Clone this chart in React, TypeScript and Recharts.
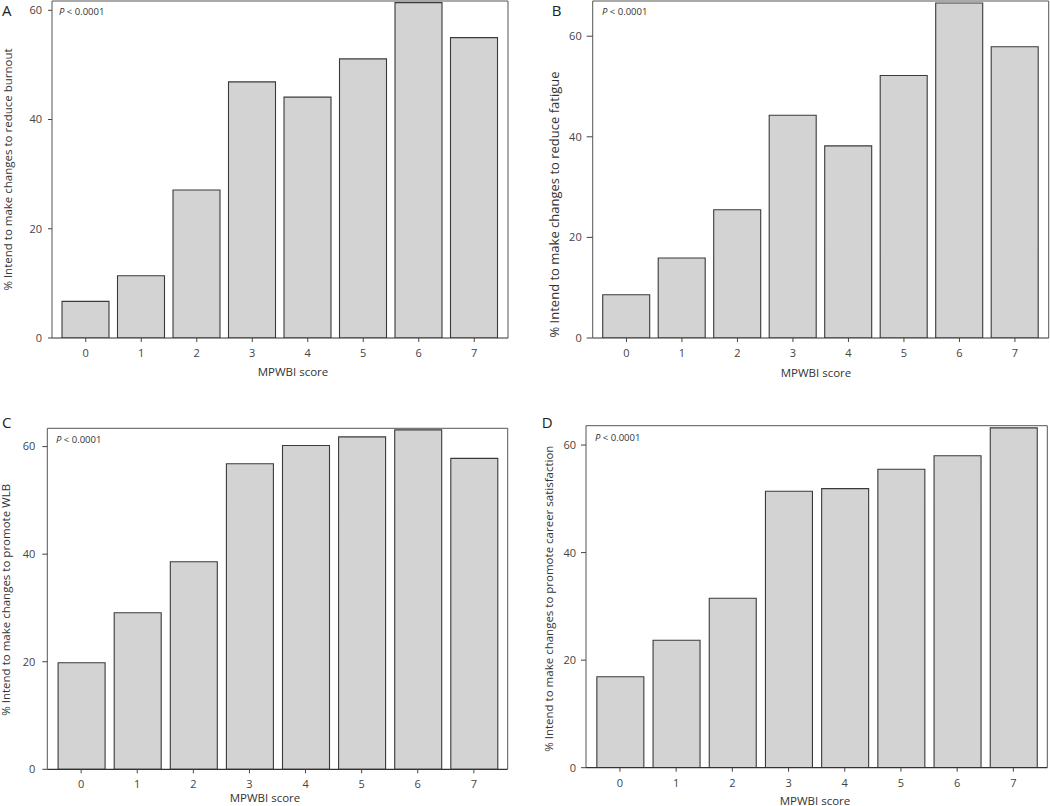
import React from 'react';
import { BarChart, Bar, XAxis, YAxis, CartesianGrid } from 'recharts';

// ---- data ----
const scores = ['0', '1', '2', '3', '4', '5', '6', '7'];
const burnoutPct = [6.7, 11.4, 27.1, 46.9, 44.1, 51.1, 61.4, 55.0];
const fatiguePct = [8.6, 15.9, 25.5, 44.3, 38.2, 52.2, 66.6, 57.9];
const wlbPct = [19.8, 29.1, 38.6, 56.8, 60.2, 61.8, 63.1, 57.8];
const careerPct = [16.9, 23.7, 31.5, 51.4, 51.9, 55.5, 58.0, 63.2];
const yTicks = [0, 20, 40, 60];
const xTitle = 'MPWBI score';
const pText = '< 0.0001';

const FONT = '"Open Sans", "Noto Sans", "DejaVu Sans", sans-serif';
const TXT = '#333';

type Cfg = {
  letter: string;
  title: string;
  values: number[];
  ymax: number;
  left: number;
  top: number;
  width: number;
  height: number;
  margin: { top: number; right: number; bottom: number; left: number };
  yw: number;
  xh: number;
  pad: number;
  yTickSize: number;
  yTickMargin: number;
  letterPos: [number, number];
  pPos: [number, number];
  yTitleD: number;
  yTitleDy: number;
  yTitleFs: number;
  xTitleDx: number;
  xTitleDy: number;
};

const panels: Cfg[] = [
  {
    letter: 'A', title: '% Intend to make changes to reduce burnout', values: burnoutPct, ymax: 61.7,
    left: 0, top: 0, width: 520, height: 400, margin: { top: 1, right: 12, bottom: 22, left: 12 },
    yw: 40, xh: 40, pad: 6, yTickSize: 4, yTickMargin: 6,
    letterPos: [2, 15.5], pPos: [59, 15], yTitleD: 45, yTitleDy: 0, yTitleFs: 11.5, xTitleDx: 13, xTitleDy: 33.7,
  },
  {
    letter: 'B', title: '% Intend to make changes to reduce fatigue', values: fatiguePct, ymax: 67.0,
    left: 520, top: 0, width: 530, height: 400, margin: { top: 1, right: 1.3, bottom: 22, left: 32.7 },
    yw: 40, xh: 40, pad: 6, yTickSize: 6, yTickMargin: 5,
    letterPos: [31.7, 15.5], pPos: [82, 15.3], yTitleD: 38.7, yTitleDy: 35, yTitleFs: 13, xTitleDx: -4.7, xTitleDy: 34.5,
  },
  {
    letter: 'C', title: '% Intend to make changes to promote WLB', values: wlbPct, ymax: 63.4,
    left: 0, top: 400, width: 520, height: 406, margin: { top: 28.3, right: 12.3, bottom: 0, left: 7.3 },
    yw: 40, xh: 36.7, pad: 5.8, yTickSize: 5, yTickMargin: 7,
    letterPos: [2, 28], pPos: [56, 42.7], yTitleD: 41.3, yTitleDy: 1, yTitleFs: 11.5, xTitleDx: -12.5, xTitleDy: 27.7,
  },
  {
    letter: 'D', title: '% Intend to make changes to promote career satisfaction', values: careerPct, ymax: 63.6,
    left: 520, top: 400, width: 530, height: 406, margin: { top: 25.7, right: 2.7, bottom: 0, left: 26 },
    yw: 40, xh: 38.3, pad: 5.85, yTickSize: 5, yTickMargin: 5,
    letterPos: [21.7, 27.5], pPos: [75, 41], yTitleD: 37, yTitleDy: 2, yTitleFs: 11.5, xTitleDx: -1.7, xTitleDy: 32.3,
  },
];

function Panel({ cfg }: { cfg: Cfg }) {
  const data = scores.map((s, i) => ({ score: s, value: cfg.values[i] }));
  const yTitle = (props: any) => {
    const vb = props.viewBox || {};
    const cx = vb.x + vb.width - cfg.yTitleD;
    const cy = vb.y + vb.height / 2 + cfg.yTitleDy;
    return (
      <text x={cx} y={cy} transform={`rotate(-90 ${cx} ${cy})`} textAnchor="middle" dominantBaseline="central"
        fontFamily={FONT} fontSize={cfg.yTitleFs} fill={TXT}>{cfg.title}</text>
    );
  };
  const xTitleC = (props: any) => {
    const vb = props.viewBox || {};
    const cx = vb.x + vb.width / 2 + cfg.xTitleDx;
    const cy = vb.y + cfg.xTitleDy;
    return (
      <text x={cx} y={cy} textAnchor="middle" dominantBaseline="central" fontFamily={FONT} fontSize={11.5} fill={TXT}>{xTitle}</text>
    );
  };
  return (
    <div style={{ position: 'absolute', left: cfg.left, top: cfg.top, width: cfg.width, height: cfg.height }}>
      <BarChart width={cfg.width} height={cfg.height} data={data} margin={cfg.margin}>
        <CartesianGrid
          stroke="#555"
          strokeWidth={1}
          horizontalCoordinatesGenerator={(p: any) => (p && p.offset ? [p.offset.top] : [])}
          verticalCoordinatesGenerator={(p: any) => (p && p.offset ? [p.offset.left + p.offset.width] : [])}
        />
        <XAxis
          dataKey="score"
          height={cfg.xh}
          padding={{ left: cfg.pad, right: cfg.pad }}
          tickSize={4}
          tickMargin={7}
          axisLine={{ stroke: '#333', strokeWidth: 1.2 }}
          tickLine={{ stroke: '#444' }}
          tick={{ fontSize: 11, fill: '#444', fontFamily: FONT }}
          interval={0}
          label={{ content: xTitleC }}
        />
        <YAxis
          type="number"
          domain={[0, cfg.ymax]}
          ticks={yTicks}
          width={cfg.yw}
          tickSize={cfg.yTickSize}
          tickMargin={cfg.yTickMargin}
          axisLine={{ stroke: '#555' }}
          tickLine={{ stroke: '#444' }}
          tick={{ fontSize: 11, fill: '#444', fontFamily: FONT }}
          interval={0}
          allowDataOverflow
          label={{ content: yTitle }}
        />
        <Bar dataKey="value" fill="#d3d3d3" stroke="#3a3a3a" strokeWidth={1.1} barSize={47} isAnimationActive={false} />
        <text x={cfg.letterPos[0]} y={cfg.letterPos[1]} fontFamily={FONT} fontSize={15} fill="#222">{cfg.letter}</text>
        <text x={cfg.pPos[0]} y={cfg.pPos[1]} fontFamily={FONT} fontSize={9.5} fill="#333">
          <tspan fontStyle="italic">P</tspan> {pText}
        </text>
      </BarChart>
    </div>
  );
}

export default function App() {
  return (
    <div style={{ position: 'absolute', left: 0, top: 0, width: 1050, height: 806, background: '#fff' }}>
      {panels.map((c) => (
        <Panel key={c.letter} cfg={c} />
      ))}
    </div>
  );
}
